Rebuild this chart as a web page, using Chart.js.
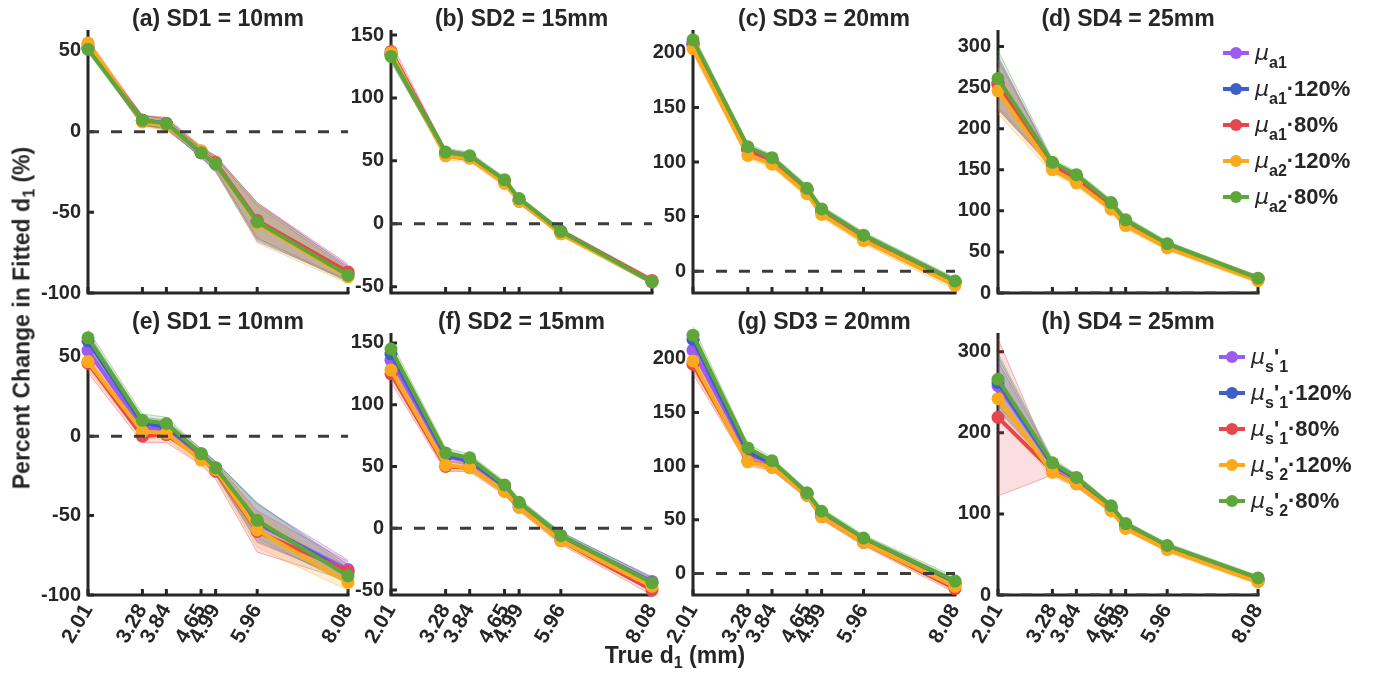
<!DOCTYPE html>
<html>
<head>
<meta charset="utf-8">
<script src="https://cdn.jsdelivr.net/npm/chart.js@4.4.1/dist/chart.umd.min.js"></script>
<style>
  body { margin:0; background:#fff; width:1375px; height:674px; overflow:hidden; position:relative;
         font-family:"Liberation Sans", Arial, sans-serif; color:#262626; }
  .panel { position:absolute; }
  .ttl { position:absolute; font-weight:bold; font-size:23px; white-space:nowrap; transform:translate(-50%,-50%); }
  .axlab { position:absolute; font-weight:bold; font-size:23px; white-space:nowrap; }
  .axlab sub { font-size:16px; vertical-align:-5px; line-height:0; }
  .leg { position:absolute; font-weight:bold; font-size:22px; white-space:nowrap; height:36px; line-height:36px; }
  .leg .sw { position:absolute; left:0; top:16px; width:26px; height:4px; }
  .leg .dot { position:absolute; left:7px; top:12px; width:12px; height:12px; border-radius:50%; }
  .leg .txt { position:absolute; left:32px; top:0; }
  .leg i { font-weight:normal; font-family:"DejaVu Sans", sans-serif; font-size:22px; }
  .leg sub { font-size:16px; vertical-align:-8px; line-height:0; }
</style>
</head>
<body>
<script>
// true top-layer thickness (mm) used on every x axis
const xTrue = [2.01, 3.28, 3.84, 4.65, 4.99, 5.96, 8.08];
const xTickLabels = ['2.01', '3.28', '3.84', '4.65', '4.99', '5.96', '8.08'];

// series: baseline, +20 %, -20 % perturbations
const seriesColors = ['#9d5cf0', '#3f5fc8', '#e8464f', '#fbaa1d', '#5ea63a'];
const absLabels  = ['μa1', 'μa1·120%', 'μa1·80%', 'μa2·120%', 'μa2·80%'];
const scatLabels = ["μs'1", "μs'1·120%", "μs'1·80%", "μs'2·120%", "μs'2·80%"];

const panelTitles = ['(a) SD1 = 10mm', '(b) SD2 = 15mm', '(c) SD3 = 20mm', '(d) SD4 = 25mm',
                     '(e) SD1 = 10mm', '(f) SD2 = 15mm', '(g) SD3 = 20mm', '(h) SD4 = 25mm'];

// mean percent change of fitted d1, one row per series (purple, blue, red, orange, green)
const meanA = [
  [52, 7, 5, -13, -20, -56, -88],
  [52, 7, 5, -13, -20, -56, -88],
  [54, 7, 5, -12, -19, -55, -87],
  [55, 6, 4, -12, -20, -57, -90],
  [51, 7, 5, -13, -20, -56, -89]];
const meanB = [
  [135, 56, 53, 34, 19, -6, -46],
  [135, 56, 53, 34, 18, -7, -46],
  [137, 56, 53, 34, 19, -6, -45],
  [136, 54, 52, 32, 18, -8, -46],
  [133, 57, 54, 35, 20, -6, -46]];
const meanC = [
  [208, 111, 102, 74, 55, 31, -10],
  [209, 112, 103, 75, 56, 32, -10],
  [207, 111, 102, 74, 55, 31, -11],
  [204, 106, 98, 71, 52, 28, -13],
  [212, 114, 104, 76, 57, 33, -9]];
const meanD = [
  [255, 157, 141, 108, 86, 59, 17],
  [256, 157, 141, 108, 86, 59, 17],
  [253, 156, 140, 107, 85, 58, 17],
  [246, 150, 134, 102, 82, 55, 15],
  [261, 159, 144, 110, 89, 60, 18]];
const meanE = [
  [54, 5, 4, -12, -20, -55, -84],
  [60, 8, 6, -11, -20, -54, -86],
  [46, 0, 1, -14, -22, -60, -85],
  [47, 3, 2, -15, -21, -59, -92],
  [62, 10, 8, -11, -20, -53, -88]];
const meanF = [
  [136, 58, 54, 34, 19, -7, -43],
  [141, 59, 55, 34, 20, -6, -44],
  [125, 50, 49, 30, 17, -10, -50],
  [128, 51, 49, 30, 17, -10, -47],
  [145, 61, 57, 35, 21, -6, -44]];
const meanG = [
  [208, 112, 102, 74, 55, 31, -10],
  [218, 113, 103, 75, 56, 32, -9],
  [195, 105, 99, 73, 53, 29, -14],
  [198, 104, 99, 73, 53, 29, -12],
  [222, 117, 105, 75, 58, 33, -7]];
const meanH = [
  [258, 160, 143, 108, 86, 59, 19],
  [262, 161, 144, 109, 87, 60, 20],
  [219, 153, 137, 105, 83, 57, 17],
  [242, 151, 137, 104, 82, 56, 16],
  [266, 163, 145, 110, 88, 61, 21]];

// standard deviation of the fitted values, same layout as the means
const sdA = [
  [2, 3, 3, 3, 4, 11, 5],
  [2, 3, 3, 3, 5, 12, 4],
  [3, 3, 4, 3, 4, 11, 5],
  [2, 3, 3, 3, 4, 12, 4],
  [2, 3, 3, 3, 4, 10, 4]];
const sdB = [
  [5, 3, 3, 2, 2, 2, 2],
  [5, 3, 3, 2, 2, 2, 2],
  [7, 3, 3, 2, 3, 2, 2],
  [5, 3, 3, 2, 2, 2, 2],
  [5, 3, 3, 2, 2, 2, 2]];
const sdC = [
  [5, 3, 3, 3, 3, 3, 3],
  [5, 3, 3, 3, 3, 3, 3],
  [5, 3, 3, 3, 3, 3, 3],
  [5, 3, 3, 3, 3, 3, 4],
  [5, 3, 3, 3, 3, 3, 3]];
const sdD = [
  [30, 4, 4, 4, 4, 3, 3],
  [32, 4, 4, 4, 4, 3, 3],
  [30, 4, 4, 4, 4, 3, 4],
  [28, 4, 4, 4, 4, 3, 3],
  [34, 4, 4, 4, 4, 3, 3]];
const sdE = [
  [5, 4, 4, 3, 4, 12, 6],
  [5, 4, 4, 3, 4, 12, 5],
  [6, 4, 5, 4, 5, 13, 6],
  [5, 4, 4, 3, 4, 11, 5],
  [5, 4, 4, 3, 4, 11, 5]];
const sdF = [
  [6, 4, 3, 3, 3, 3, 4],
  [6, 4, 3, 3, 3, 3, 4],
  [7, 4, 3, 3, 3, 3, 4],
  [6, 4, 3, 3, 3, 3, 4],
  [6, 4, 3, 3, 3, 3, 4]];
const sdG = [
  [8, 4, 3, 3, 3, 3, 4],
  [8, 4, 3, 3, 3, 3, 4],
  [9, 4, 3, 3, 3, 3, 4],
  [8, 4, 3, 3, 3, 3, 4],
  [8, 4, 3, 3, 3, 3, 4]];
const sdH = [
  [30, 5, 4, 3, 3, 3, 3],
  [32, 5, 4, 3, 3, 3, 3],
  [97, 5, 4, 3, 3, 3, 3],
  [24, 5, 4, 3, 3, 3, 3],
  [32, 5, 4, 3, 3, 3, 3]];

// y-axis ticks and limits per panel
const yTicksA = [-100, -50, 0, 50];
const yTicksB = [-50, 0, 50, 100, 150];
const yTicksC = [0, 50, 100, 150, 200];
const yTicksD = [0, 50, 100, 150, 200, 250, 300];
const yTicksH = [0, 100, 200, 300];
const yLimA = [-100, 63], yLimB = [-55, 154], yLimC = [-20, 221], yLimD = [0, 320];
const yLimE = [-100, 65], yLimF = [-54, 158], yLimG = [-20, 224], yLimH = [0, 323];

const panels = [
  [meanA, sdA, yTicksA, yLimA], [meanB, sdB, yTicksB, yLimB], [meanC, sdC, yTicksC, yLimC], [meanD, sdD, yTicksD, yLimD],
  [meanE, sdE, yTicksA, yLimE], [meanF, sdF, yTicksB, yLimF], [meanG, sdG, yTicksC, yLimG], [meanH, sdH, yTicksH, yLimH]];

// plot-area placement on the page
const cols = [{l: 88, r: 348}, {l: 391, r: 652}, {l: 693, r: 955}, {l: 998, r: 1258}];
const rows = [{t: 30, b: 293}, {t: 333, b: 595}];
const YW = 62, XH = 74, PT = 20, PR = 28;
const AX = '#262626';
const FONT = '"Liberation Sans", Arial, sans-serif';

function rgba(hex, a) {
  const n = parseInt(hex.slice(1), 16);
  return `rgba(${n >> 16},${(n >> 8) & 255},${n & 255},${a})`;
}

// axis lines with inward tick marks
const axesPlugin = {
  id: 'matAxes',
  beforeDatasetsDraw(chart) {
    const {ctx, chartArea: ca, scales: {x, y}} = chart;
    ctx.save();
    ctx.strokeStyle = AX;
    ctx.lineWidth = 3;
    ctx.lineCap = 'butt';
    ctx.beginPath();
    ctx.moveTo(ca.left, ca.top);
    ctx.lineTo(ca.left, ca.bottom);
    ctx.lineTo(ca.right + 1.5, ca.bottom);
    ctx.stroke();
    ctx.beginPath();
    x.ticks.forEach(t => {
      const px = x.getPixelForValue(t.value);
      ctx.moveTo(px, ca.bottom);
      ctx.lineTo(px, ca.bottom - 6);
    });
    y.ticks.forEach(t => {
      const py = y.getPixelForValue(t.value);
      ctx.moveTo(ca.left, py);
      ctx.lineTo(ca.left + 6, py);
    });
    ctx.stroke();
    ctx.restore();
  }
};

function makePanel(idx) {
  const [means, sds, yTicks, yLim] = panels[idx];
  const col = cols[idx % 4], row = rows[Math.floor(idx / 4)];
  const bottomRow = idx >= 4;
  const w = YW + (col.r - col.l) + PR, h = PT + (row.b - row.t) + XH;
  const canvas = document.createElement('canvas');
  canvas.className = 'panel';
  canvas.width = w; canvas.height = h;
  canvas.style.left = (col.l - YW) + 'px';
  canvas.style.top = (row.t - PT) + 'px';
  document.body.appendChild(canvas);

  const datasets = [];
  // shaded mean ± sd bands, first series painted first
  means.forEach((m, s) => {
    const c = seriesColors[s];
    datasets.push({
      data: xTrue.map((xv, i) => ({x: xv, y: m[i] + sds[s][i]})),
      borderColor: rgba(c, 0.4), borderWidth: 1, backgroundColor: rgba(c, 0.18),
      pointRadius: 0, fill: '+1', order: 110 - s, clip: false
    });
    datasets.push({
      data: xTrue.map((xv, i) => ({x: xv, y: m[i] - sds[s][i]})),
      borderColor: rgba(c, 0.4), borderWidth: 1, pointRadius: 0, fill: false, order: 110 - s, clip: false
    });
  });
  means.forEach((m, s) => {
    const c = seriesColors[s];
    datasets.push({
      label: (bottomRow ? scatLabels : absLabels)[s],
      data: xTrue.map((xv, i) => ({x: xv, y: m[i]})),
      borderColor: c, backgroundColor: c, borderWidth: 4,
      pointRadius: 6.5, pointBorderWidth: 0, pointBackgroundColor: c,
      fill: false, order: 6 - s, clip: false
    });
  });
  datasets.push({
    data: [{x: xTrue[0], y: 0}, {x: xTrue[xTrue.length - 1], y: 0}],
    borderColor: '#3c3c3c', borderWidth: 3, borderDash: [11, 12], pointRadius: 0, fill: false, order: 0
  });

  new Chart(canvas, {
    type: 'line',
    data: {datasets},
    plugins: [axesPlugin],
    options: {
      responsive: false, animation: false, events: [],
      layout: {padding: {top: PT, right: PR, left: 0, bottom: 0}},
      plugins: {legend: {display: false}, tooltip: {enabled: false}},
      elements: {line: {tension: 0}},
      scales: {
        x: {
          type: 'linear', min: xTrue[0], max: xTrue[xTrue.length - 1],
          grid: {display: false, drawTicks: false}, border: {display: false},
          ticks: {display: bottomRow, autoSkip: false, minRotation: 60, maxRotation: 60, padding: 5, color: AX,
                  font: {family: FONT, size: 21, weight: 'bold'},
                  callback: (v) => xTickLabels[xTrue.indexOf(v)] ?? ''},
          afterBuildTicks: (sc) => { sc.ticks = xTrue.map(v => ({value: v})); },
          afterFit: (sc) => { sc.height = XH; }
        },
        y: {
          type: 'linear', min: yLim[0], max: yLim[1],
          grid: {display: false, drawTicks: false}, border: {display: false},
          ticks: {padding: 7, color: AX, font: {family: FONT, size: 20, weight: 'bold'}},
          afterBuildTicks: (sc) => { sc.ticks = yTicks.map(v => ({value: v})); },
          afterFit: (sc) => { sc.width = YW; }
        }
      }
    }
  });

  const t = document.createElement('div');
  t.className = 'ttl';
  t.textContent = panelTitles[idx];
  t.style.left = ((col.l + col.r) / 2) + 'px';
  t.style.top = (row.t - 12) + 'px';
  document.body.appendChild(t);
}

for (let i = 0; i < 8; i++) makePanel(i);

// legends with sub/superscripted symbols
function legendBlock(x, ys, entries) {
  entries.forEach((html, s) => {
    const d = document.createElement('div');
    d.className = 'leg';
    d.style.left = x + 'px';
    d.style.top = (ys[s] - 18) + 'px';
    d.innerHTML = `<span class="sw" style="background:${seriesColors[s]}"></span>` +
                  `<span class="dot" style="background:${seriesColors[s]}"></span>` +
                  `<span class="txt">${html}</span>`;
    document.body.appendChild(d);
  });
}
legendBlock(1223, [53, 89, 125, 161, 197], [
  '<i>μ</i><sub>a1</sub>', '<i>μ</i><sub>a1</sub>·120%', '<i>μ</i><sub>a1</sub>·80%',
  '<i>μ</i><sub>a2</sub>·120%', '<i>μ</i><sub>a2</sub>·80%']);
legendBlock(1219, [357, 393, 429, 465, 501], [
  "<i>μ</i><sub>s</sub>'<sub>1</sub>", "<i>μ</i><sub>s</sub>'<sub>1</sub>·120%", "<i>μ</i><sub>s</sub>'<sub>1</sub>·80%",
  "<i>μ</i><sub>s</sub>'<sub>2</sub>·120%", "<i>μ</i><sub>s</sub>'<sub>2</sub>·80%"]);

// shared axis titles
const yl = document.createElement('div');
yl.className = 'axlab';
yl.innerHTML = 'Percent Change in Fitted d<sub>1</sub> (%)';
yl.style.left = '22px'; yl.style.top = '318px';
yl.style.transform = 'translate(-50%,-50%) rotate(-90deg)';
document.body.appendChild(yl);

const xl = document.createElement('div');
xl.className = 'axlab';
xl.innerHTML = 'True d<sub>1</sub> (mm)';
xl.style.left = '675px'; xl.style.top = '655px';
xl.style.transform = 'translate(-50%,-50%)';
document.body.appendChild(xl);
</script>
</body>
</html>
